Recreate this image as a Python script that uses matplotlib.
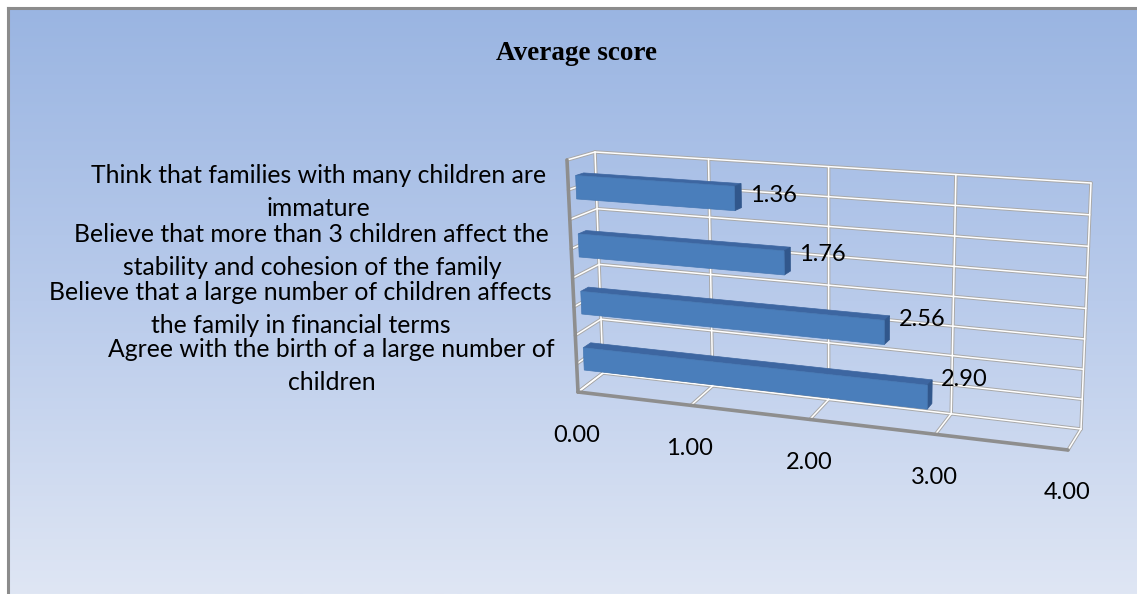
import numpy as np
import matplotlib
matplotlib.use("Agg")
import matplotlib.pyplot as plt
from matplotlib.colors import LinearSegmentedColormap
from matplotlib.patches import Polygon

# --- data ---
categories = [
    "Agree with the birth of a large number of\nchildren",
    "Believe that a large number of children affects\nthe family in financial terms",
    "Believe that more than 3 children affect the\nstability and cohesion of the family",
    "Think that families with many children are\nimmature",
]
values = [2.90, 2.56, 1.76, 1.36]
ticks = [0, 1, 2, 3, 4]
title = "Average score"

W, H = 1137, 594
FONT = "Lato"

# --- fake 3D box: corners of the back wall and the front plane in pixels ---
# (value, category) unit square -> pixel, for back (depth 0) and front (depth 1)
BACK = {(0, 0): (603, 373), (0, 1): (595, 152), (1, 1): (1091, 183), (1, 0): (1081, 429)}
FRONT = {(0, 0): (578, 392), (0, 1): (567, 160), (1, 1): (1075, 193), (1, 0): (1068, 450)}
VMAX = 4.0
NCAT = len(categories)


def homography(corners):
    A, b = [], []
    for (x, y), (u, v) in corners.items():
        A.append([x, y, 1, 0, 0, 0, -u * x, -u * y]); b.append(u)
        A.append([0, 0, 0, x, y, 1, -v * x, -v * y]); b.append(v)
    h = np.linalg.solve(np.array(A, float), np.array(b, float))
    return np.append(h, 1).reshape(3, 3)


HB = homography(BACK)
HF = homography(FRONT)


def apply(Hm, x, y):
    p = Hm @ np.array([x, y, 1.0])
    return p[:2] / p[2]


def proj(v, c, d):
    """value, category height (0..NCAT), depth (0 back, 1 front) -> pixel"""
    x, y = v / VMAX, c / NCAT
    pb = apply(HB, x, y)
    pf = apply(HF, x, y)
    return pb + d * (pf - pb)


fig = plt.figure(figsize=(W / 100, H / 100), dpi=100, facecolor="white")
ax = fig.add_axes([0, 0, 1, 1])
ax.set_xlim(0, W)
ax.set_ylim(H, 0)
ax.axis("off")

# background gradient + border
cmap = LinearSegmentedColormap.from_list("bg", ["#9AB5E2", "#B9CBEB", "#DFE6F4"])
grad = np.linspace(0, 1, 256).reshape(-1, 1)
ax.imshow(grad, cmap=cmap, aspect="auto", extent=(8, W, H, 8), zorder=0)
ax.plot([8, 8], [H, 8], color="#8C8C8C", lw=2.2, zorder=0.5)
ax.plot([8, W], [8, 8], color="#8C8C8C", lw=2.2, zorder=0.5)


def gline(p, q, color="white", shadow="#A9A9A9", lw=1.1):
    xs, ys = [p[0], q[0]], [p[1], q[1]]
    ax.plot(xs, ys, color=shadow, lw=lw + 1.4, solid_capstyle="round", zorder=1)
    ax.plot(xs, ys, color=color, lw=lw, solid_capstyle="round", zorder=1.1)


# back wall
for k in range(2 * NCAT + 1):
    c = k / 2
    gline(proj(0, c, 0), proj(VMAX, c, 0))
for t in ticks:
    gline(proj(t, 0, 0), proj(t, NCAT, 0))
# left wall
for k in range(2 * NCAT + 1):
    c = k / 2
    gline(proj(0, c, 0), proj(0, c, 1))
# floor
for t in ticks:
    gline(proj(t, 0, 0), proj(t, 0, 1))
# darker front edges
for p, q in [(proj(0, 0, 1), proj(VMAX, 0, 1)), (proj(0, 0, 1), proj(0, NCAT, 1))]:
    ax.plot([p[0], q[0]], [p[1], q[1]], color="#8E8E8E", lw=2.6,
            solid_capstyle="round", zorder=1.2)

# bars
D0, D1 = 0.43, 0.72
HALF = 0.2
for i, v in enumerate(values):
    c0, c1 = i + 0.5 - HALF, i + 0.5 + HALF
    front = [proj(0, c0, D1), proj(v, c0, D1), proj(v, c1, D1), proj(0, c1, D1)]
    top = [proj(0, c1, D1), proj(v, c1, D1), proj(v, c1, D0), proj(0, c1, D0)]
    end = [proj(v, c0, D1), proj(v, c0, D0), proj(v, c1, D0), proj(v, c1, D1)]
    ax.add_patch(Polygon(top, closed=True, fc="#3D66A1", ec="#3D66A1", lw=0.5, zorder=2))
    ax.add_patch(Polygon(end, closed=True, fc="#31578C", ec="#31578C", lw=0.5, zorder=2))
    ax.add_patch(Polygon(front, closed=True, fc="#4A7EBB", ec="#4678B3", lw=0.5, zorder=2.1))
    lp = proj(v, i + 0.5 + 0.07 * (NCAT - 1 - i), D0)
    ax.text(lp[0] + 9, lp[1], f"{v:.2f}", fontsize=17, family=FONT,
            ha="left", va="center", zorder=3)

# category labels
for i, lab in enumerate(categories):
    p = proj(0, i + 0.5, 1)
    ax.text(p[0] - 22, p[1] + 2, lab, fontsize=17.8, family=FONT, ha="right",
            va="center", multialignment="center", linespacing=1.55, zorder=3)

# value tick labels
for t in ticks:
    p = proj(t, 0, 1)
    ax.text(p[0] - 1, p[1] + 43, f"{t:.2f}", fontsize=17, family=FONT,
            ha="center", va="center", zorder=3)

ax.text(577, 53, title, fontsize=19.5, family="Liberation Serif", weight="bold",
        ha="center", va="center", zorder=3)

fig.savefig("out.png", dpi=100, facecolor="white")
